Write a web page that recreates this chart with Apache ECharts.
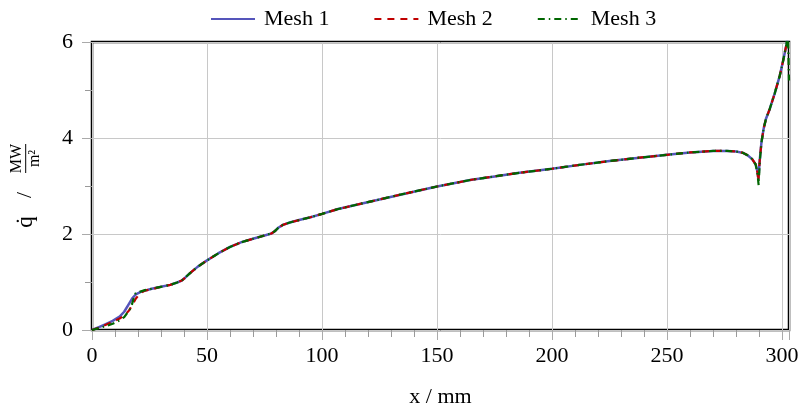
<!DOCTYPE html>
<html>
<head>
<meta charset="utf-8">
<script src="https://cdn.jsdelivr.net/npm/echarts@6/dist/echarts.min.js"></script>
<style>
  html, body { margin: 0; padding: 0; background: #fff; }
  #chart { width: 800px; height: 409px; }
</style>
</head>
<body>
<div id="chart"></div>
<script>
// x position in mm, heat flux in MW/m^2
var xMesh1 = [0, 3, 6, 9, 12, 14, 16, 17.5, 19, 21, 23, 26, 30, 34, 37, 39, 40.5, 42.5, 46, 50, 55, 60, 65, 70, 75, 78, 79.5, 81, 83, 86, 90, 95, 100, 107, 115, 125, 135, 150, 165, 175, 185, 200, 212, 225, 238, 250, 260, 270, 276, 280, 283, 285, 287, 288.5, 289.3, 289.7, 290.3, 291, 292, 293, 294.6, 296.8, 299, 300.4, 301.9, 302.5, 303];
var qMesh1 = [0, 0.06, 0.12, 0.19, 0.28, 0.38, 0.54, 0.66, 0.74, 0.79, 0.82, 0.86, 0.9, 0.94, 0.99, 1.03, 1.09, 1.18, 1.32, 1.45, 1.6, 1.73, 1.83, 1.9, 1.97, 2.01, 2.06, 2.13, 2.19, 2.24, 2.29, 2.35, 2.42, 2.52, 2.61, 2.72, 2.83, 2.99, 3.13, 3.2, 3.27, 3.36, 3.44, 3.52, 3.59, 3.65, 3.7, 3.73, 3.73, 3.72, 3.69, 3.64, 3.56, 3.45, 3.3, 3.15, 3.55, 3.9, 4.2, 4.4, 4.6, 4.93, 5.3, 5.6, 5.95, 6.1, 6.2];

var xMesh2 = [0, 3, 6, 9, 12, 14, 16, 17.5, 19, 21, 23, 26, 30, 34, 37, 39, 40.5, 42.5, 46, 50, 55, 60, 65, 70, 75, 78, 79.5, 81, 83, 86, 90, 95, 100, 107, 115, 125, 135, 150, 165, 175, 185, 200, 212, 225, 238, 250, 260, 270, 276, 280, 283, 285, 287, 288.5, 289.3, 289.7, 290.3, 291, 292, 293, 294.6, 296.8, 299, 300.4, 301.9, 302.5, 303];
var qMesh2 = [0, 0.05, 0.11, 0.17, 0.24, 0.3, 0.4, 0.52, 0.65, 0.77, 0.82, 0.85, 0.9, 0.94, 0.99, 1.03, 1.09, 1.18, 1.32, 1.45, 1.6, 1.73, 1.83, 1.9, 1.97, 2.01, 2.06, 2.13, 2.19, 2.24, 2.29, 2.35, 2.42, 2.52, 2.61, 2.72, 2.83, 2.99, 3.13, 3.2, 3.27, 3.36, 3.44, 3.52, 3.59, 3.65, 3.7, 3.73, 3.73, 3.72, 3.69, 3.64, 3.56, 3.45, 3.28, 3.1, 3.55, 3.9, 4.2, 4.4, 4.6, 4.93, 5.3, 5.6, 5.95, 6.1, 6.2];

var xMesh3 = [0, 3, 6, 9, 12, 14, 16, 17, 18, 19, 21, 23, 26, 30, 34, 37, 39, 40.5, 42.5, 46, 50, 55, 60, 65, 70, 75, 78, 79.5, 81, 83, 86, 90, 95, 100, 107, 115, 125, 135, 150, 165, 175, 185, 200, 212, 225, 238, 250, 260, 270, 276, 280, 283, 285, 287, 288.5, 289.3, 289.8, 290.3, 291, 292, 293, 294.6, 296.8, 299, 300.4, 301.9, 302.5, 303];
var qMesh3 = [0, 0.04, 0.08, 0.13, 0.2, 0.27, 0.4, 0.47, 0.64, 0.77, 0.8, 0.83, 0.86, 0.9, 0.94, 0.99, 1.03, 1.09, 1.18, 1.32, 1.45, 1.6, 1.73, 1.83, 1.9, 1.97, 2.01, 2.06, 2.13, 2.19, 2.24, 2.29, 2.35, 2.42, 2.52, 2.61, 2.72, 2.83, 2.99, 3.13, 3.2, 3.27, 3.36, 3.44, 3.52, 3.59, 3.65, 3.7, 3.73, 3.73, 3.72, 3.69, 3.64, 3.56, 3.45, 3.25, 3.02, 3.5, 3.9, 4.2, 4.4, 4.6, 4.93, 5.3, 5.6, 5.95, 6.3, 5.2];

var seriesNames = ["Mesh 1", "Mesh 2", "Mesh 3"];
var xTicks = [0, 50, 100, 150, 200, 250, 300];
var yTicks = [0, 2, 4, 6];

function pairs(xs, ys) {
  var out = [];
  for (var i = 0; i < xs.length; i++) out.push([xs[i], ys[i]]);
  return out;
}

var serif = "'Liberation Serif', 'DejaVu Serif', serif";
var dom = document.getElementById("chart");
var myChart = echarts.init(dom, null, { renderer: "canvas", width: 800, height: 409 });

myChart.setOption({
  animation: false,
  backgroundColor: "#fff",
  textStyle: { fontFamily: serif },
  legend: {
    left: 205,
    top: 3,
    itemWidth: 44,
    itemHeight: 14,
    itemGap: 44,
    itemStyle: { opacity: 0 },
    textStyle: { fontFamily: serif, fontSize: 22, color: "#000", padding: [0, 0, 0, 4] },
    data: seriesNames
  },
  grid: {
    left: 92,
    right: 11,
    top: 42,
    bottom: 79,
    show: true,
    borderColor: "#000",
    borderWidth: 2.5,
    containLabel: false,
    outerBoundsMode: "none"
  },
  xAxis: {
    type: "value",
    min: 0,
    max: 303,
    interval: 50,
    name: "x / mm",
    nameLocation: "middle",
    nameGap: 56,
    nameTextStyle: { fontFamily: serif, fontSize: 22, color: "#000" },
    axisLine: { show: false },
    axisTick: { show: true, inside: false, length: 10, lineStyle: { color: "#aaa" } },
    minorTick: { show: true, splitNumber: 5, length: 7, lineStyle: { color: "#999" } },
    splitLine: { show: true, lineStyle: { color: "#c8c8c8", width: 1 } },
    axisLabel: {
      fontFamily: serif, fontSize: 22, color: "#000", margin: 15,
      showMaxLabel: false,
      formatter: function (v) { return xTicks.indexOf(v) >= 0 ? String(v) : ""; }
    }
  },
  yAxis: {
    type: "value",
    min: 0,
    max: 6,
    interval: 2,
    axisLine: { show: false },
    axisTick: { show: true, inside: false, length: 10, lineStyle: { color: "#aaa" } },
    minorTick: { show: true, splitNumber: 2, length: 7, lineStyle: { color: "#999" } },
    splitLine: { show: true, lineStyle: { color: "#c8c8c8", width: 1 } },
    axisLabel: {
      fontFamily: serif, fontSize: 22, color: "#000", margin: 19,
      formatter: function (v) { return yTicks.indexOf(v) >= 0 ? String(v) : ""; }
    }
  },
  graphic: [
    {
      type: "group",
      x: 30,
      y: 188,
      rotation: Math.PI / 2,
      children: [
        { type: "text", style: { text: "q\u0307", x: -34, y: -4, font: "23px " + serif, fill: "#000", align: "center", verticalAlign: "middle" } },
        { type: "text", style: { text: "/", x: -7, y: -5, font: "22px " + serif, fill: "#000", align: "center", verticalAlign: "middle" } },
        { type: "text", style: { text: "MW", x: 29.5, y: -5.5, font: "16px " + serif, fill: "#000", align: "center", verticalAlign: "bottom" } },
        { type: "line", shape: { x1: 15, y1: -4.3, x2: 44, y2: -4.3 }, style: { stroke: "#000", lineWidth: 1 } },
        { type: "text", style: { text: "m\u00b2", x: 29.5, y: -3, font: "16px " + serif, fill: "#000", align: "center", verticalAlign: "top" } }
      ]
    }
  ],
  series: [
    {
      name: seriesNames[0],
      type: "line",
      data: pairs(xMesh1, qMesh1),
      symbol: "none",
      clip: true,
      lineStyle: { color: "#5555bb", width: 2.5 },
      itemStyle: { color: "#5555bb" },
      z: 2
    },
    {
      name: seriesNames[1],
      type: "line",
      data: pairs(xMesh2, qMesh2),
      symbol: "none",
      clip: true,
      lineStyle: { color: "#c00000", width: 2.2, type: [7, 6] },
      itemStyle: { color: "#c00000" },
      z: 3
    },
    {
      name: seriesNames[2],
      type: "line",
      data: pairs(xMesh3, qMesh3),
      symbol: "none",
      clip: true,
      lineStyle: { color: "#006600", width: 2.2, type: [7, 4, 1.5, 4] },
      itemStyle: { color: "#006600" },
      z: 4
    }
  ]
});
</script>
</body>
</html>
